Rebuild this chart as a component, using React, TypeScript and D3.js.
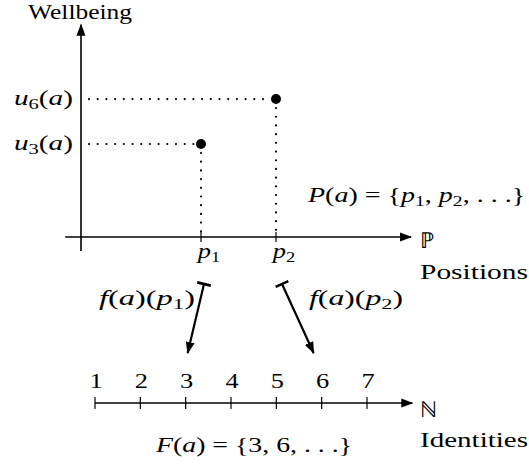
import { useLayoutEffect, useRef, useState } from 'react';
import * as d3 from 'd3';

// positions of agent a and the wellbeing there
const positionNames = ['1', '2'];
const positionValues = [1.6, 2.6];
const wellbeingNames = ['3', '6'];
const wellbeingValues = [3.0, 4.45];

// identities f(a)(p) that positions map to
const identityOf = [3, 6];
const identityTicks = [1, 2, 3, 4, 5, 6, 7];

type Part = { t: string; it?: boolean; sub?: boolean };

const FONT = 'Liberation Serif';

// text stretched sideways to a target width
function Label({ x, y, parts, anchor = 'start', len, size = 22, stretch = 1.2 }:
  { x: number; y: number; parts: Part[]; anchor?: string; len?: number; size?: number; stretch?: number }) {
  const ref = useRef<SVGTextElement>(null);
  const [sx, setSx] = useState(stretch);
  useLayoutEffect(() => {
    if (len && ref.current) {
      const w = ref.current.getComputedTextLength();
      if (w > 0) setSx(len / w);
    }
  }, [len]);
  let down = false;
  const spans = parts.map((p, i) => {
    let dy: number | undefined;
    if (p.sub && !down) { dy = 4; down = true; }
    else if (!p.sub && down) { dy = -4; down = false; }
    return (
      <tspan key={i} dy={dy}
        style={{ fontStyle: p.it ? 'italic' : 'normal', fontSize: (p.sub ? size * 0.7 : size) + 'px' }}>
        {p.t}
      </tspan>
    );
  });
  return (
    <g transform={`translate(${x},${y}) scale(${sx},1)`}>
      <text ref={ref} x={0} y={0} textAnchor={anchor} fill="#000" style={{ fontFamily: FONT, fontSize: size + 'px' }}>
        {spans}
      </text>
    </g>
  );
}

export default function App() {
  const xPos = d3.scaleLinear().domain([0, 4.4]).range([81, 411]);
  const yWell = d3.scaleLinear().domain([0, 7]).range([237, 20]);
  const xId = d3.scaleLinear().domain([1, 7]).range([95, 367]);
  const axisY = yWell(0);
  const idY = 403;

  const startShift = [3, 6];
  const endShift = [2, -8];

  const dotted = { stroke: '#000', strokeWidth: 2.2, strokeLinecap: 'round' as const, strokeDasharray: '0 8.7' };

  return (
    <svg width={529} height={467} style={{ position: 'absolute', left: 0, top: 0, background: '#fff' }}>
      <defs>
        <marker id="head" viewBox="0 0 12 10" refX={11} refY={5} markerWidth={12} markerHeight={10}
          markerUnits="userSpaceOnUse" orient="auto">
          <path d="M0,0.5 L12,5 L0,9.5 Z" fill="#000" />
        </marker>
      </defs>

      {/* top axes */}
      <line x1={xPos(-0.21)} x2={xPos(4.4)} y1={axisY} y2={axisY} stroke="#000" strokeWidth={1.6} markerEnd="url(#head)" />
      <line x1={xPos(0)} x2={xPos(0)} y1={yWell(-0.45)} y2={yWell(6.85)} stroke="#000" strokeWidth={1.6} markerEnd="url(#head)" />
      <Label x={28} y={19} parts={[{ t: 'Wellbeing' }]} len={104} />

      {positionValues.map((p, i) => {
        const x = xPos(p), y = yWell(wellbeingValues[i]);
        return (
          <g key={i}>
            <line x1={xPos(0) + 8} x2={x - 6} y1={y} y2={y} {...dotted} />
            <line x1={x} x2={x} y1={y + 9} y2={axisY - 4} {...dotted} />
            <circle cx={x} cy={y} r={5} fill="#000" />
            <line x1={x} x2={x} y1={axisY - 5} y2={axisY + 5} stroke="#000" strokeWidth={1.2} />
            <Label x={x + 8} y={258} anchor="middle" parts={[{ t: 'p', it: true }, { t: positionNames[i], sub: true }]} />
            <Label x={73} y={y + 6} anchor="end" len={59}
              parts={[{ t: 'u', it: true }, { t: wellbeingNames[i], sub: true }, { t: '(' }, { t: 'a', it: true }, { t: ')' }]} />
          </g>
        );
      })}

      <Label x={308} y={202} len={217} parts={[
        { t: 'P', it: true }, { t: '(' }, { t: 'a', it: true }, { t: ') = {' },
        { t: 'p', it: true }, { t: '1', sub: true }, { t: ', ' },
        { t: 'p', it: true }, { t: '2', sub: true }, { t: ', . . .}' }
      ]} />
      <Label x={420} y={248} parts={[{ t: '\u2119' }]} stretch={1} />
      <Label x={420} y={279} len={108} parts={[{ t: 'Positions' }]} />

      {/* mapsto arrows */}
      {positionValues.map((p, i) => {
        const x1 = xPos(p) + startShift[i], y1 = axisY + 47;
        const x2 = xId(identityOf[i]) + endShift[i], y2 = idY - 50;
        const a = Math.atan2(y2 - y1, x2 - x1) + Math.PI / 2;
        const c = Math.cos(a) * 7, s = Math.sin(a) * 7;
        return (
          <g key={i}>
            <line x1={x1} y1={y1} x2={x2} y2={y2} stroke="#000" strokeWidth={2.2} markerEnd="url(#head)" />
            <line x1={x1 - c} y1={y1 - s} x2={x1 + c} y2={y1 + s} stroke="#000" strokeWidth={2.6} />
          </g>
        );
      })}
      <Label x={195} y={305} anchor="end" len={96} parts={[
        { t: 'f', it: true }, { t: '(' }, { t: 'a', it: true }, { t: ')(' }, { t: 'p', it: true }, { t: '1', sub: true }, { t: ')' }
      ]} />
      <Label x={309} y={305} len={94} parts={[
        { t: 'f', it: true }, { t: '(' }, { t: 'a', it: true }, { t: ')(' }, { t: 'p', it: true }, { t: '2', sub: true }, { t: ')' }
      ]} />

      {/* identities axis */}
      <line x1={xId(1)} x2={xId(8)} y1={idY} y2={idY} stroke="#000" strokeWidth={1.6} markerEnd="url(#head)" />
      {identityTicks.map(d => (
        <g key={d}>
          <line x1={xId(d)} x2={xId(d)} y1={idY - 6} y2={idY + 6} stroke="#000" strokeWidth={1.2} />
          <Label x={xId(d) + 1} y={388} anchor="middle" parts={[{ t: String(d) }]} />
        </g>
      ))}
      <Label x={420} y={417} parts={[{ t: '\u2115' }]} stretch={1} />
      <Label x={420} y={447} len={108} parts={[{ t: 'Identities' }]} />
      <Label x={156} y={452} len={196} parts={[
        { t: 'F', it: true }, { t: '(' }, { t: 'a', it: true }, { t: ') = {3, 6, . . .}' }
      ]} />
    </svg>
  );
}
